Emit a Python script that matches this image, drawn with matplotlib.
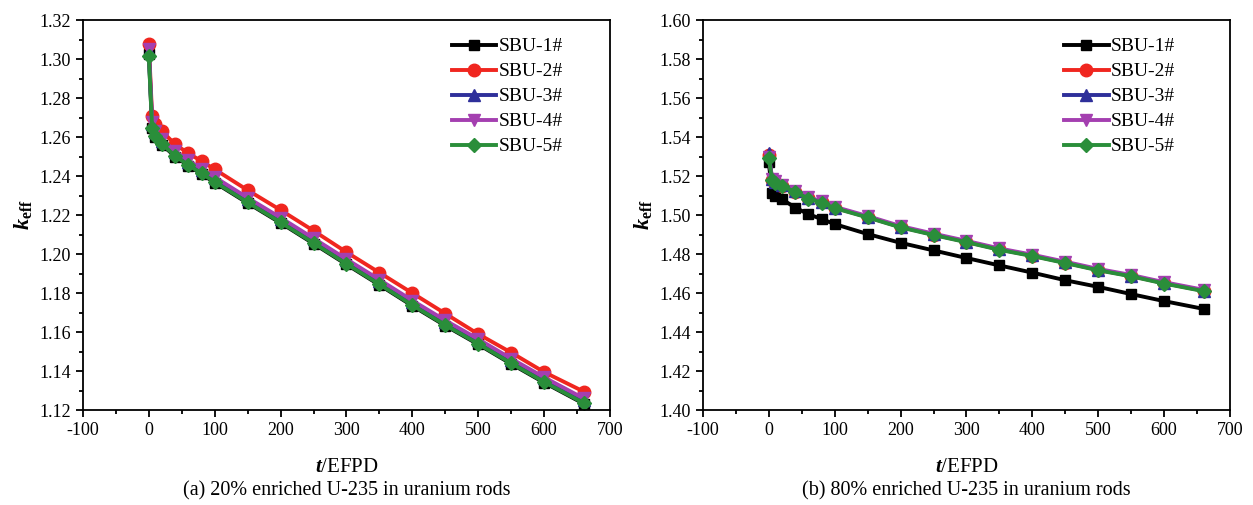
import matplotlib
matplotlib.use('Agg')
import matplotlib.pyplot as plt
from matplotlib.ticker import MultipleLocator, FormatStrFormatter

plt.rcParams['font.family'] = ['Liberation Serif', 'DejaVu Serif']
plt.rcParams['axes.unicode_minus'] = False
plt.rcParams['mathtext.fontset'] = 'custom'
plt.rcParams['mathtext.rm'] = 'Liberation Serif'
plt.rcParams['mathtext.it'] = 'Liberation Serif:italic'
plt.rcParams['mathtext.bf'] = 'Liberation Serif:bold'
plt.rcParams['mathtext.bfit'] = 'Liberation Serif:italic:bold'

# burnup steps (EFPD)
days = [0, 5, 10, 20, 40, 60, 80, 100, 150, 200, 250, 300, 350, 400,
        450, 500, 550, 600, 660]

# (a) 20% enriched
a_sbu1 = [1.3025, 1.2645, 1.2602, 1.2562, 1.2500, 1.2454, 1.2411, 1.2367, 1.2262,
          1.2160, 1.2054, 1.1947, 1.1842, 1.1735, 1.1633, 1.1537, 1.1437, 1.1341, 1.1233]
a_sbu2 = [1.308, 1.2707, 1.267, 1.263, 1.2563, 1.2517, 1.2477, 1.2435, 1.2328,
          1.2226, 1.212, 1.201, 1.1905, 1.180, 1.1695, 1.159, 1.1495, 1.1395, 1.1295]
a_sbu3 = [1.304, 1.267, 1.2625, 1.2582, 1.2522, 1.2475, 1.2432, 1.2389, 1.2283,
          1.2181, 1.2075, 1.1968, 1.1863, 1.1756, 1.1654, 1.1558, 1.1458, 1.1362, 1.1254]
a_sbu4 = [1.305, 1.268, 1.263, 1.2588, 1.2528, 1.2481, 1.2438, 1.2395, 1.2289,
          1.2187, 1.2081, 1.1974, 1.1869, 1.1762, 1.1660, 1.1564, 1.1464, 1.1368, 1.1260]
a_sbu5 = [1.3017, 1.2648, 1.2605, 1.2565, 1.2503, 1.2457, 1.2414, 1.237, 1.2265,
          1.2163, 1.2057, 1.195, 1.1845, 1.1738, 1.1636, 1.154, 1.144, 1.1344, 1.1236]

# (b) 80% enriched
b_sbu1 = [1.527, 1.5115, 1.510, 1.5081, 1.5039, 1.5005, 1.498, 1.4954, 1.4903,
          1.4858, 1.4819, 1.478, 1.4742, 1.4705, 1.4666, 1.4632, 1.4595, 1.4559, 1.4519]
b_sbu2 = [1.531, 1.5182, 1.5168, 1.5152, 1.5121, 1.5087, 1.5066, 1.5038, 1.499,
          1.4939, 1.49, 1.4863, 1.4824, 1.4792, 1.4756, 1.4719, 1.4688, 1.4651, 1.4612]
b_sbu3 = [1.532, 1.5183, 1.5169, 1.5153, 1.5122, 1.5088, 1.5067, 1.5039, 1.4991,
          1.494, 1.4901, 1.4864, 1.4825, 1.4793, 1.4757, 1.472, 1.4689, 1.4652, 1.4613]
b_sbu4 = [1.530, 1.5187, 1.5173, 1.5157, 1.5126, 1.5092, 1.5071, 1.5043, 1.4995,
          1.4944, 1.4905, 1.4868, 1.4829, 1.4797, 1.4761, 1.4724, 1.4693, 1.4656, 1.4617]
b_sbu5 = [1.5293, 1.518, 1.5166, 1.515, 1.5119, 1.5085, 1.5064, 1.5036, 1.4988,
          1.4937, 1.4898, 1.4861, 1.4822, 1.479, 1.4754, 1.4717, 1.4686, 1.4649, 1.461]

labels = ['SBU-1#', 'SBU-2#', 'SBU-3#', 'SBU-4#', 'SBU-5#']
colors = ['#000000', '#f0261f', '#2e2f9a', '#a43fb0', '#2a8e3a']
markers = ['s', 'o', '^', 'v', 'D']
sizes = [7, 9, 8.5, 8.5, 7.5]


def draw(ax, series, ylim, leg_x):
    for y, lab, c, m, ms in zip(series, labels, colors, markers, sizes):
        ax.plot(days, y, color=c, marker=m, markersize=ms, lw=2.8, label=lab)
    ax.set_xlim(-100, 700)
    ax.set_ylim(*ylim)
    ax.xaxis.set_major_locator(MultipleLocator(100))
    ax.xaxis.set_minor_locator(MultipleLocator(50))
    ax.yaxis.set_major_locator(MultipleLocator(0.02))
    ax.yaxis.set_minor_locator(MultipleLocator(0.01))
    ax.yaxis.set_major_formatter(FormatStrFormatter('%.2f'))
    ax.tick_params(which='both', direction='out', top=False, right=False,
                   labelsize=13, width=1.3)
    ax.tick_params(which='major', length=5)
    ax.tick_params(which='minor', length=3)
    for s in ax.spines.values():
        s.set_linewidth(1.3)
    ax.set_xlabel(r'$\mathbfit{t}$/EFPD', fontsize=15, labelpad=14)
    ax.set_ylabel(r'$\mathbfit{k}_{\mathbf{eff}}$', fontsize=16, labelpad=4)
    ax.legend(loc='upper left', bbox_to_anchor=(leg_x, 0.975), frameon=False,
              fontsize=14, handlelength=2.3, handletextpad=0.1,
              labelspacing=0.38, borderaxespad=0)


fig = plt.figure(figsize=(12.53, 5.05), dpi=100)
ax1 = fig.add_axes([0.0662, 0.188, 0.4206, 0.772])
ax2 = fig.add_axes([0.561, 0.188, 0.4206, 0.772])

draw(ax1, [a_sbu1, a_sbu2, a_sbu3, a_sbu4, a_sbu5], (1.12, 1.32), 0.685)
draw(ax2, [b_sbu1, b_sbu2, b_sbu3, b_sbu4, b_sbu5], (1.40, 1.60), 0.67)

fig.text(0.0662 + 0.4206 / 2, 0.018, '(a) 20% enriched U-235 in uranium rods',
         ha='center', fontsize=14.5)
fig.text(0.561 + 0.4206 / 2, 0.018, '(b) 80% enriched U-235 in uranium rods',
         ha='center', fontsize=14.5)

fig.savefig('out.png', dpi=100)
